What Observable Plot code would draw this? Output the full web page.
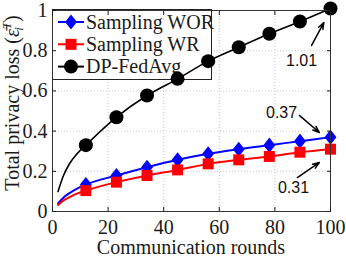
<!DOCTYPE html>
<html><head><meta charset="utf-8">
<script src="https://cdn.jsdelivr.net/npm/d3@7"></script>
<script src="https://cdn.jsdelivr.net/npm/@observablehq/plot@0.6"></script>
<style>body{margin:0;background:#fff}</style>
</head><body><div id="chart"></div>
<script>
// ---- data ----
const rounds = [2, 4, 6, 9, 12, 23, 34, 45, 56, 67, 78, 89, 100];
const markerRounds = [12, 23, 34, 45, 56, 67, 78, 89, 100];
const worValues = [0.04, 0.07, 0.09, 0.115, 0.134, 0.179, 0.22, 0.257, 0.287, 0.31, 0.33, 0.35, 0.37];
const wrValues = [0.032, 0.055, 0.07, 0.09, 0.104, 0.146, 0.179, 0.207, 0.237, 0.257, 0.274, 0.295, 0.31];
const fedavgValues = [0.10, 0.18, 0.235, 0.29, 0.33, 0.469, 0.577, 0.66, 0.748, 0.817, 0.884, 0.945, 1.01];
const seriesNames = ["Sampling WOR", "Sampling WR", "DP-FedAvg"];
const seriesColors = ["#0000ff", "#ff0000", "#000000"];
const xTicks = [0, 20, 40, 60, 80, 100];
const yTicks = [0, 0.2, 0.4, 0.6, 0.8, 1];
const annotLabels = ["1.01", "0.37", "0.31"];
const annotX = [89.6, 82.4, 86.7];
const annotY = [0.75, 0.49, 0.12];
const arrowX1 = [93.2, 88.8, 88.1];
const arrowY1 = [0.826, 0.478, 0.169];
const arrowX2 = [97.6, 96.0, 96.0];
const arrowY2 = [0.94, 0.393, 0.244];
const xLabel = "Communication rounds";

// ---- symbols ----
const diamondSym = {
  draw(ctx, size) {
    const r = Math.sqrt(size / Math.PI);
    const h = r * 1.08, w = r * 0.85;
    ctx.moveTo(0, -h); ctx.lineTo(w, 0); ctx.lineTo(0, h); ctx.lineTo(-w, 0); ctx.closePath();
  }
};
const symbols = [diamondSym, d3.symbolSquare, d3.symbolCircle];
const radii = [7, 6.2, 7];

const valueSets = [worValues, wrValues, fedavgValues];
const table = [];
valueSets.forEach((vals, s) => rounds.forEach((r, i) => table.push({series: seriesNames[s], x: r, y: vals[i]})));
const annots = annotLabels.map((t, i) => ({t, x: annotX[i], y: annotY[i], x1: arrowX1[i], y1: arrowY1[i], x2: arrowX2[i], y2: arrowY2[i]}));

const marks = [
  Plot.gridX(xTicks, {stroke: "#c8c8c8", strokeOpacity: 1, strokeDasharray: "1,2"}),
  Plot.gridY(yTicks, {stroke: "#c8c8c8", strokeOpacity: 1, strokeDasharray: "1,2"}),
];
seriesNames.forEach((name, s) => {
  const rows = table.filter(d => d.series === name);
  marks.push(Plot.line(rows, {x: "x", y: "y", stroke: seriesColors[s], strokeWidth: s === 2 ? 1.6 : 2, curve: "monotone-x"}));
  marks.push(Plot.dot(rows.filter(d => markerRounds.includes(d.x)), {x: "x", y: "y", r: radii[s], symbol: () => symbols[s], fill: seriesColors[s], stroke: "none"}));
});
marks.push(
  Plot.arrow(annots, {x1: "x1", y1: "y1", x2: "x2", y2: "y2", stroke: "black", strokeWidth: 1.5, headLength: 7, headAngle: 40}),
  Plot.text(annots, {x: "x", y: "y", text: "t", fontFamily: "Liberation Sans", fontSize: 16, fill: "#111"}),
  Plot.frame({stroke: "#333"}),
  Plot.axisX({ticks: xTicks, tickSize: -4, tickPadding: 12, label: null, tickFormat: d => String(d)}),
  Plot.axisY({ticks: yTicks, tickSize: -4, tickPadding: 9, label: null, tickFormat: d => String(d)}),
  Plot.axisY({anchor: "right", ticks: yTicks, tickSize: -4, label: null, tickFormat: () => ""}),
  Plot.axisX({anchor: "top", ticks: xTicks, tickSize: -4, label: null, tickFormat: () => ""})
);

const chart = Plot.plot({
  width: 346, height: 258,
  marginLeft: 52, marginRight: 16, marginTop: 10, marginBottom: 47,
  x: {domain: [0, 100]},
  y: {domain: [0, 1]},
  style: {fontFamily: "Liberation Serif", fontSize: "20px", color: "#1a1a1a", background: "white"},
  marks
});
document.getElementById("chart").appendChild(chart);

const svg = d3.select(chart);
// legend (inserted below the data marks)
const firstLine = chart.querySelector('g[aria-label="line"]');
const lg = d3.select(chart.insertBefore(document.createElementNS("http://www.w3.org/2000/svg", "g"), firstLine));
lg.append("rect").attr("x", 52.5).attr("y", 9.5).attr("width", 159).attr("height", 70)
  .attr("fill", "white").attr("stroke", "#222").attr("stroke-width", 1);
seriesNames.forEach((name, s) => {
  const cy = 22 + s * 22.3;
  lg.append("line").attr("x1", 58).attr("x2", 84).attr("y1", cy).attr("y2", cy)
    .attr("stroke", seriesColors[s]).attr("stroke-width", 2);
  lg.append("path").attr("transform", `translate(71,${cy})`)
    .attr("d", d3.symbol(symbols[s], radii[s] * radii[s] * Math.PI)()).attr("fill", seriesColors[s]);
  lg.append("text").attr("x", 86).attr("y", cy + 6.5).attr("text-anchor", "start").attr("font-family", "Liberation Serif")
    .attr("font-size", 20).attr("fill", "#1a1a1a").text(name);
});

// axis labels
svg.append("text").attr("x", 191).attr("y", 254).attr("text-anchor", "middle")
  .attr("font-family", "Liberation Serif").attr("font-size", 20).attr("fill", "#1a1a1a").text(xLabel);
const yl = svg.append("text").attr("transform", "translate(19,103) rotate(-90)").attr("text-anchor", "middle")
  .attr("font-family", "Liberation Serif").attr("font-size", 20).attr("fill", "#1a1a1a");
yl.append("tspan").text("Total privacy loss (");
yl.append("tspan").attr("font-style", "italic").text("ε\u0304");
yl.append("tspan").attr("font-style", "italic").attr("font-size", 13).attr("dy", -8).text("T");
yl.append("tspan").attr("font-style", "italic").attr("font-size", 13).attr("dx", -8).attr("dy", 12).text("i");
yl.append("tspan").attr("dy", -4).attr("dx", 5).text(")");
</script>
</body></html>
